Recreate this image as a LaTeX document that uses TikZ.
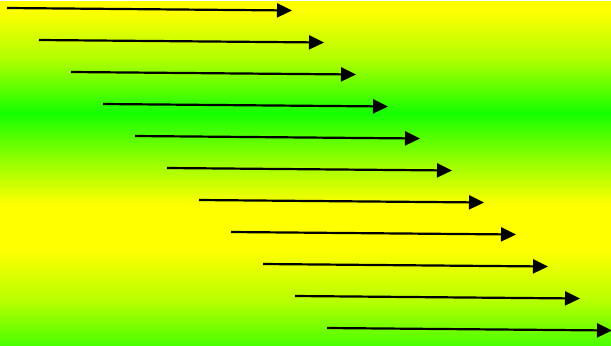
\documentclass[tikz,border=0pt]{standalone}
\usetikzlibrary{arrows.meta}
\definecolor{gtop}{RGB}{20,255,0}
\definecolor{gbot}{RGB}{75,255,0}
\definecolor{yel}{RGB}{255,255,0}
\definecolor{lima}{RGB}{175,255,0}
\definecolor{limb}{RGB}{160,255,0}
\definecolor{limc}{RGB}{185,255,0}
\pgfdeclareverticalshading{bgshade}{611bp}{color(0bp)=(gbot); color(45bp)=(limc); color(95bp)=(yel); color(140bp)=(yel); color(180bp)=(limb); color(232bp)=(gtop); color(285bp)=(lima); color(335bp)=(yel); color(345bp)=(yel)}
\tikzset{arr/.style={line width=2.2bp,-{Triangle[length=15bp,width=14bp]}}}
\begin{document}
\begin{tikzpicture}[x=1bp,y=-1bp]
\useasboundingbox (0,0) rectangle (611,345);
\node[inner sep=0,outer sep=0,anchor=north west] (bg) at (0,0) {\pgfuseshading{bgshade}};
\foreach \i in {0,...,10}{
  \coordinate (s\i) at (7+32*\i,8+32*\i);
  \coordinate (e\i) at (292+32*\i,10.5+32*\i);
  \draw[arr] (s\i) -- (e\i);
}
\end{tikzpicture}
\end{document}
